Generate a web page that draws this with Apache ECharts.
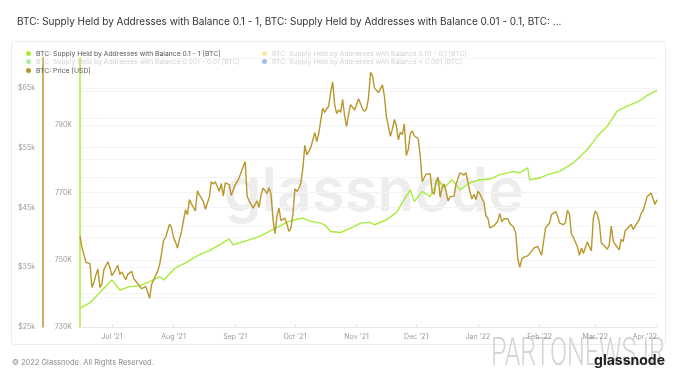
<!DOCTYPE html>
<html>
<head>
<meta charset="utf-8">
<script src="https://cdn.jsdelivr.net/npm/echarts@6/dist/echarts.min.js"></script>
<style>
html,body{margin:0;padding:0;background:#fff;}
#chart{width:680px;height:378px;}
</style>
</head>
<body>
<div id="chart"></div>
<script>
// ---- DATA ----
const titleText = "BTC: Supply Held by Addresses with Balance 0.1 - 1, BTC: Supply Held by Addresses with Balance 0.01 - 0.1, BTC: ...";
const seriesNames = [
  "BTC: Supply Held by Addresses with Balance 0.1 - 1 [BTC]",
  "BTC: Supply Held by Addresses with Balance 0.01 - 0.1 [BTC]",
  "BTC: Supply Held by Addresses with Balance 0.001 - 0.01 [BTC]",
  "BTC: Supply Held by Addresses with Balance < 0.001 [BTC]",
  "BTC: Price [USD]"
];
// daily BTC price (thousand USD), starting 2021-06-15
const priceStart = "2021-06-15";
const priceK = [
  40.2,38.3,38.0,35.8,35.5,35.6,31.6,32.5,33.7,34.7,31.6,32.2,34.6,34.5,35.9,35.0,
  33.6,33.9,34.7,35.3,33.8,34.2,33.9,32.9,33.8,33.5,34.3,33.1,32.7,32.8,31.8,31.4,31.5,31.8,30.8,29.8,32.1,32.3,33.6,34.3,35.4,37.3,39.5,40.0,40.0,42.2,41.6,
  40.0,39.2,38.2,39.7,40.9,42.8,44.6,43.8,46.3,45.6,45.6,44.4,47.8,47.1,47.0,46.0,44.7,44.8,46.7,49.3,48.9,49.3,49.5,47.7,49.0,46.9,49.1,48.9,48.8,47.0,47.2,
  48.8,49.3,50.0,49.9,51.8,52.7,46.9,46.1,46.4,44.9,45.1,46.1,45.0,47.1,48.2,47.8,47.3,48.3,47.3,43.0,40.6,43.6,44.9,42.8,42.7,43.2,42.2,41.0,41.5,43.8,
  48.1,47.7,48.2,49.1,51.5,55.4,53.8,54.0,55.0,54.7,57.5,56.0,57.4,57.3,61.6,60.9,61.5,62.0,64.3,66.0,62.2,60.7,61.3,60.9,63.1,60.3,58.5,60.6,62.2,61.9,61.3,
  61.0,63.2,63.0,61.5,61.1,61.5,63.3,67.6,67.0,65.0,65.0,64.2,64.5,65.5,63.6,60.2,60.4,56.9,58.1,59.7,58.7,56.3,57.6,57.2,59.0,53.7,54.7,57.3,57.8,57.0,
  57.2,56.5,53.6,49.3,49.4,50.6,50.5,50.6,47.6,47.2,49.4,50.1,46.7,48.3,48.9,47.6,46.1,46.8,46.7,46.9,48.9,48.6,50.8,50.8,50.4,50.8,50.6,47.6,46.4,47.2,46.3,
  47.7,47.3,46.5,45.9,43.6,43.2,41.6,41.7,41.9,41.8,42.7,44.0,42.6,43.1,43.2,43.1,42.3,42.4,41.7,40.7,36.5,35.0,36.3,36.7,37.0,36.9,37.1,37.7,38.2,37.9,38.5,
  38.7,37.0,37.2,41.6,41.4,42.4,43.8,44.1,44.3,43.6,42.4,42.2,42.1,42.5,44.5,43.9,40.5,40.0,40.1,38.4,37.0,38.2,37.3,38.3,39.2,39.1,37.7,43.2,
  44.4,43.9,42.5,39.1,39.4,38.4,38.0,38.7,41.9,39.4,38.8,38.9,37.9,39.7,39.3,41.1,40.9,41.8,42.2,41.3,41.0,42.4,42.9,44.0,44.4,44.5,46.8,47.1,47.4,47.1,45.5,
  46.3
];
// supply held by addresses with balance 0.1 - 1 BTC (thousand BTC)
const supplyDates = [
  "2021-06-15","2021-06-20","2021-06-23","2021-07-01","2021-07-05","2021-07-10","2021-07-15","2021-07-20","2021-07-25","2021-07-27",
  "2021-08-02","2021-08-07","2021-08-14","2021-08-19","2021-08-24","2021-08-29","2021-08-31","2021-09-03","2021-09-08","2021-09-13",
  "2021-09-18","2021-09-23","2021-09-28","2021-10-03","2021-10-05","2021-10-09","2021-10-14","2021-10-16","2021-10-19","2021-10-24",
  "2021-10-29","2021-11-03","2021-11-08","2021-11-10","2021-11-16","2021-11-21","2021-11-24","2021-11-28","2021-11-30","2021-12-04",
  "2021-12-08","2021-12-12","2021-12-15","2021-12-19","2021-12-23","2021-12-28","2022-01-02","2022-01-07","2022-01-12","2022-01-19",
  "2022-01-22","2022-01-26","2022-01-27","2022-02-01","2022-02-05","2022-02-11","2022-02-18","2022-02-25","2022-03-02","2022-03-07",
  "2022-03-12","2022-03-17","2022-03-23","2022-03-28","2022-04-01"
];
const supplyK = [
  735.6,737.2,739.0,744.0,741.0,742.0,742.2,743.5,745.0,744.0,
  747.6,749.1,751.5,752.7,754.4,756.2,754.4,755.0,755.9,756.9,
  758.4,759.9,761.4,762.2,762.4,761.4,760.9,760.4,758.4,758.1,
  759.4,760.9,761.1,760.4,761.9,764.0,767.0,770.8,767.3,770.3,
  768.8,773.8,771.4,773.8,770.8,772.9,773.8,774.0,775.3,776.3,
  775.8,777.3,773.8,774.3,775.3,776.3,778.8,782.8,786.7,789.7,
  794.2,795.7,797.2,799.2,800.4
];
const xTickDates = ["2021-07-01","2021-08-01","2021-09-01","2021-10-01","2021-11-01","2021-12-01","2022-01-01","2022-02-01","2022-03-01","2022-04-01"];
const xTickLabels = ["Jul '21","Aug '21","Sep '21","Oct '21","Nov '21","Dec '21","Jan '22","Feb '22","Mar '22","Apr '22"];
const priceTickLabels = ["$25k","$35k","$45k","$55k","$65k"];
const supplyTickLabels = ["730K","750K","770K","790K"];

// ---- BUILD ----
const DAY = 86400000;
const t0 = Date.parse(priceStart + "T00:00:00Z");
const priceData = priceK.map((v, i) => [t0 + i * DAY, v * 1000]);
const supplyData = supplyDates.map((d, i) => [Date.parse(d + "T00:00:00Z"), supplyK[i] * 1000]);
const tickTs = xTickDates.map(d => Date.parse(d + "T00:00:00Z"));

const FONT = "Inter, Roboto, sans-serif";
const GOLD = "#b8972c", LIME = "#a8eb3c";
const colors = [LIME, "#e6d52a", "#5cce3c", "#2e6de3", GOLD];
const faded = [false, true, true, true, false];
const legendPos = [[26, 50], [262, 50], [26, 58], [262, 58], [26, 67]];

const legends = seriesNames.map((n, i) => ({
  data: [{ name: n, itemStyle: { color: colors[i], opacity: faded[i] ? 0.45 : 1 } }],
  left: legendPos[i][0], top: legendPos[i][1], padding: 0,
  icon: "circle", itemWidth: 5, itemHeight: 5,
  selectedMode: false,
  textStyle: { fontFamily: FONT, fontSize: 6.8, color: faded[i] ? "#d2d2d2" : "#555" }
}));

const chart = echarts.init(document.getElementById("chart"), null, { renderer: "canvas" });
chart.setOption({
  animation: false,
  backgroundColor: "#fff",
  title: { text: titleText, left: 12, top: 12, textStyle: { fontFamily: FONT, fontSize: 10, fontWeight: "normal", color: "#333" } },
  legend: legends,
  grid: { left: 80, right: 23, top: 58, bottom: 51, containLabel: false },
  xAxis: {
    type: "value",
    min: t0, max: tickTs[tickTs.length - 1],
    axisLine: { show: true, lineStyle: { color: "#e8e8e8" } },
    axisTick: { show: true, customValues: tickTs, length: 3, inside: true, lineStyle: { color: "#e3e3e3" } },
    splitLine: { show: false },
    axisLabel: {
      customValues: tickTs,
      alignMaxLabel: "right",
      fontFamily: FONT, fontSize: 7, color: "#9a9a9a", margin: 6,
      formatter: v => { const k = tickTs.indexOf(v); return k >= 0 ? xTickLabels[k] : ""; }
    }
  },
  yAxis: [
    {
      type: "value", position: "left", offset: 37,
      min: 25000, max: 70000, interval: 5000,
      axisLine: { show: true, lineStyle: { color: GOLD, width: 1.5 } },
      axisTick: { show: false },
      splitLine: { show: true, lineStyle: { color: "#f4f4f4" } },
      axisLabel: {
        fontFamily: FONT, fontSize: 7, color: "#9a9a9a", margin: 8, showMaxLabel: false,
        formatter: v => { const k = (v - 25000) / 10000; return Number.isInteger(k) && priceTickLabels[k] ? priceTickLabels[k] : ""; }
      }
    },
    {
      type: "value", position: "left", offset: 0,
      min: 730000, max: 810000, interval: 10000,
      axisLine: { show: true, lineStyle: { color: LIME, width: 1.5 } },
      axisTick: { show: false },
      splitLine: { show: true, lineStyle: { color: "#f4f4f4" } },
      axisLabel: {
        fontFamily: FONT, fontSize: 7, color: "#9a9a9a", margin: 8, showMaxLabel: false,
        formatter: v => { const k = (v - 730000) / 20000; return Number.isInteger(k) && supplyTickLabels[k] ? supplyTickLabels[k] : ""; }
      }
    }
  ],
  series: [
    { name: seriesNames[0], type: "line", yAxisIndex: 1, data: supplyData, showSymbol: false, color: colors[0], lineStyle: { width: 1.4, color: colors[0] }, z: 3 },
    { name: seriesNames[1], type: "line", yAxisIndex: 1, data: [], color: colors[1] },
    { name: seriesNames[2], type: "line", yAxisIndex: 1, data: [], color: colors[2] },
    { name: seriesNames[3], type: "line", yAxisIndex: 1, data: [], color: colors[3] },
    { name: seriesNames[4], type: "line", yAxisIndex: 0, data: priceData, showSymbol: false, color: colors[4], lineStyle: { width: 1.4, color: colors[4] }, z: 4 }
  ],
  graphic: [
    { type: "rect", z: -10, silent: true, shape: { x: 11.5, y: 41.5, width: 654, height: 303, r: 3 }, style: { fill: "none", stroke: "#ececec", lineWidth: 1 } },
    { type: "text", z: -5, silent: true, left: 224, top: 163, style: { text: "glassnode", fontFamily: FONT, fontSize: 60, fontWeight: 600, fill: "rgba(0,0,0,0.07)" } },
    { type: "text", silent: true, left: 12, top: 359, style: { text: "© 2022 Glassnode. All Rights Reserved.", fontFamily: FONT, fontSize: 7.5, fill: "#8a8a8a" } },
    { type: "text", silent: true, x: 665, y: 336, scaleX: 0.66, style: { text: "PARTONEWS.IR", align: "right", verticalAlign: "top", fontFamily: "Roboto, sans-serif", fontSize: 38, fontWeight: 300, fill: "#d4d4d4" } },
    { type: "text", silent: true, right: 15, top: 354, style: { text: "glassnode", fontFamily: FONT, fontSize: 14, fontWeight: 700, fill: "#1e1e1e" } }
  ]
});
</script>
</body>
</html>
